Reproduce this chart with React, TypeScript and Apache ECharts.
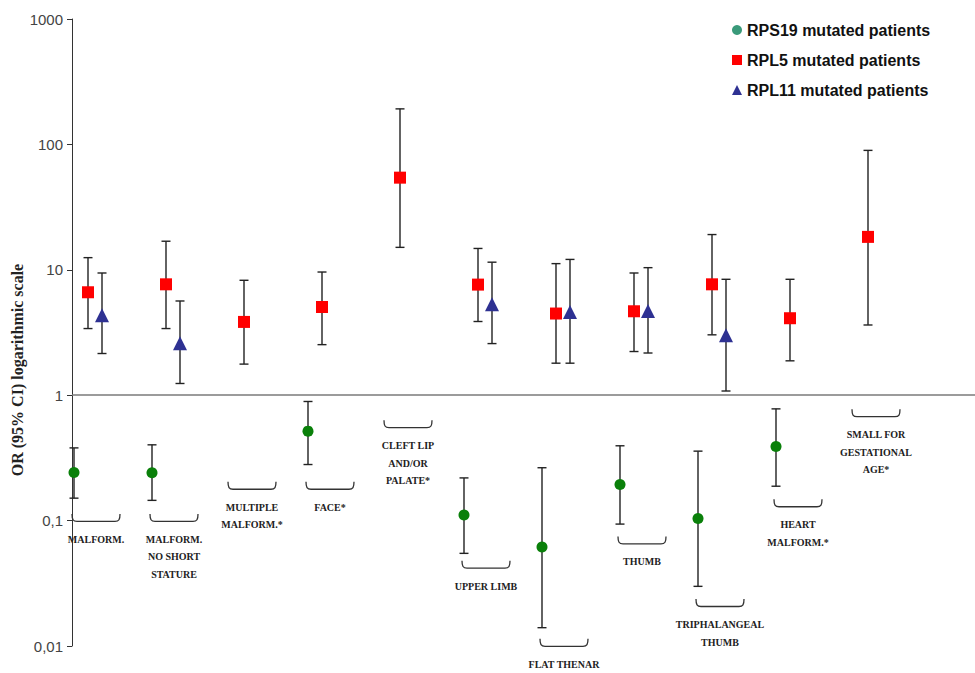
import React, { useEffect, useRef } from 'react';
import * as echarts from 'echarts';

// ---------- data ----------
const categories = [
  'MALFORM.',
  'MALFORM.\nNO SHORT\nSTATURE',
  'MULTIPLE\nMALFORM.*',
  'FACE*',
  'CLEFT LIP\nAND/OR\nPALATE*',
  'UPPER LIMB',
  'FLAT THENAR',
  'THUMB',
  'TRIPHALANGEAL\nTHUMB',
  'HEART\nMALFORM.*',
  'SMALL FOR\nGESTATIONAL\nAGE*',
];

const seriesNames = ['RPS19 mutated patients', 'RPL5 mutated patients', 'RPL11 mutated patients'];

// RPS19 (odds ratio, lower / upper 95% CI)
const rps19Or = [0.242, 0.241, null, 0.517, null, 0.111, 0.0615, 0.194, 0.104, 0.39, null];
const rps19Lo = [0.151, 0.145, null, 0.28, null, 0.0548, 0.014, 0.0938, 0.0299, 0.188, null];
const rps19Hi = [0.38, 0.402, null, 0.891, null, 0.219, 0.264, 0.395, 0.358, 0.778, null];

// RPL5
const rpl5Or = [6.62, 7.66, 3.84, 5.05, 54.3, 7.62, 4.48, 4.67, 7.66, 4.11, 18.3];
const rpl5Lo = [3.4, 3.4, 1.77, 2.53, 15.1, 3.87, 1.8, 2.23, 3.03, 1.88, 3.63];
const rpl5Hi = [12.5, 16.9, 8.25, 9.6, 192, 14.8, 11.2, 9.43, 19.1, 8.4, 89.6];

// RPL11
const rpl11Or = [4.34, 2.6, null, null, null, 5.31, 4.61, 4.7, 3.01, null, null];
const rpl11Lo = [2.15, 1.24, null, null, null, 2.58, 1.8, 2.17, 1.08, null, null];
const rpl11Hi = [9.43, 5.64, null, null, null, 11.5, 12.1, 10.4, 8.4, null, null];

// OR level at which each category's bracket label sits
const labelAt = [0.113, 0.113, 0.204, 0.204, 0.632, 0.0479, 0.0114, 0.0748, 0.0237, 0.148, 0.773];

const yTickLabels = ['0,01', '0,1', '1', '10', '100', '1000'];

// ---------- layout helpers ----------
const X_MIN = -16 / 78;
const X_MAX = X_MIN + 903 / 78;
const OFFSET = 14 / 78;

const pts = (arr: (number | null)[], off: number) =>
  arr
    .map((v, i) => (v == null ? null : [i + off, v]))
    .filter((d) => d != null) as number[][];

const errs = (lo: (number | null)[], hi: (number | null)[], off: number) =>
  lo
    .map((v, i) => (v == null || hi[i] == null ? null : [i + off, v, hi[i] as number]))
    .filter((d) => d != null) as number[][];

const errRender = (params: any, api: any) => {
  const x = api.value(0);
  const top = api.coord([x, api.value(2)]);
  const bot = api.coord([x, api.value(1)]);
  const cx = top[0];
  const hw = 4.5;
  const st = { stroke: '#222', lineWidth: 1.4 };
  return {
    type: 'group',
    children: [
      { type: 'line', shape: { x1: cx, y1: top[1], x2: cx, y2: bot[1] }, style: st },
      { type: 'line', shape: { x1: cx - hw, y1: top[1], x2: cx + hw, y2: top[1] }, style: st },
      { type: 'line', shape: { x1: cx - hw, y1: bot[1], x2: cx + hw, y2: bot[1] }, style: st },
    ],
  };
};

const bracketRender = (params: any, api: any) => {
  const p = api.coord([api.value(0), api.value(1)]);
  const cx = p[0] + 8;
  const y = p[1];
  const l = cx - 24;
  const r = cx + 24;
  const b = y + 7.5;
  const d = `M${l},${y} C${l},${b - 2} ${l + 1},${b} ${l + 5},${b} L${r - 5},${b} C${r - 1},${b} ${r},${b - 2} ${r},${y}`;
  return {
    type: 'group',
    children: [
      { type: 'path', shape: { pathData: d }, style: { stroke: '#333', lineWidth: 1.3, fill: 'none' } },
      {
        type: 'text',
        x: cx,
        y: y + 16.5,
        style: {
          text: categories[params.dataIndex],
          align: 'center',
          verticalAlign: 'top',
          fontFamily: '"Liberation Serif", "DejaVu Serif", serif',
          fontWeight: 'bold',
          fontSize: 10,
          lineHeight: 17.7,
          fill: '#222',
        },
      },
    ],
  };
};

export default function App() {
  const ref = useRef<HTMLDivElement>(null);

  useEffect(() => {
    document.body.style.margin = '0';
    if (!ref.current) return;
    const chart = echarts.init(ref.current, null, { renderer: 'svg' });

    const errCommon = {
      type: 'custom',
      renderItem: errRender,
      encode: { x: 0, y: [1, 2] },
      silent: true,
      z: 2,
    };

    chart.setOption({
      animation: false,
      backgroundColor: '#ffffff',
      grid: { left: 72, right: 0, top: 19, bottom: 27 },
      legend: {
        orient: 'vertical',
        left: 727,
        top: 16,
        itemWidth: 10,
        itemHeight: 10,
        itemGap: 12,
        selectedMode: false,
        textStyle: {
          fontFamily: '"Liberation Sans", Arial, sans-serif',
          fontWeight: 'bold',
          fontSize: 16,
          lineHeight: 18,
          color: '#111',
        },
        data: [
          { name: seriesNames[0], icon: 'circle', itemStyle: { color: '#3a9a7a' } },
          { name: seriesNames[1], icon: 'rect' },
          { name: seriesNames[2], icon: 'triangle' },
        ],
      },
      xAxis: {
        type: 'value',
        min: X_MIN,
        max: X_MAX,
        show: false,
      },
      yAxis: {
        type: 'log',
        logBase: 10,
        min: 0.01,
        max: 1000,
        axisLine: { show: true, onZero: false, lineStyle: { color: '#333', width: 1 } },
        axisTick: { show: true, inside: false, length: 5, lineStyle: { color: '#333' } },
        splitLine: { show: false },
        minorTick: { show: false },
        axisLabel: {
          margin: 9,
          fontFamily: '"Liberation Sans", Arial, sans-serif',
          fontSize: 15,
          color: '#444',
          formatter: (v: number) => {
            const idx = Math.round(Math.log10(v)) + 2;
            return yTickLabels[idx] ?? '';
          },
        },
      },
      graphic: [
        {
          type: 'text',
          x: 17,
          y: 370,
          rotation: Math.PI / 2,
          style: {
            text: 'OR (95% CI) logarithmic scale',
            fontFamily: '"Liberation Serif", "DejaVu Serif", serif',
            fontWeight: 'bold',
            fontSize: 16,
            fill: '#222',
            align: 'center',
            verticalAlign: 'middle',
          },
        },
      ],
      series: [
        { ...errCommon, name: 'err-rps19', data: errs(rps19Lo, rps19Hi, -OFFSET) },
        { ...errCommon, name: 'err-rpl5', data: errs(rpl5Lo, rpl5Hi, 0) },
        { ...errCommon, name: 'err-rpl11', data: errs(rpl11Lo, rpl11Hi, OFFSET) },
        {
          type: 'custom',
          name: 'labels',
          renderItem: bracketRender,
          encode: { x: 0, y: 1 },
          silent: true,
          data: labelAt.map((v, i) => [i, v]),
          z: 1,
        },
        {
          type: 'scatter',
          name: seriesNames[0],
          symbol: 'circle',
          symbolSize: 11,
          itemStyle: { color: '#0a800a', opacity: 1 },
          data: pts(rps19Or, -OFFSET),
          z: 3,
        },
        {
          type: 'scatter',
          name: seriesNames[1],
          symbol: 'rect',
          symbolSize: 12,
          itemStyle: { color: '#ff0000', opacity: 1 },
          data: pts(rpl5Or, 0),
          z: 3,
          markLine: {
            silent: true,
            symbol: ['none', 'none'],
            label: { show: false },
            lineStyle: { color: '#7a7a7a', width: 1.6, type: 'solid' },
            data: [{ yAxis: 1 }],
          },
        },
        {
          type: 'scatter',
          name: seriesNames[2],
          symbol: 'triangle',
          symbolSize: 14,
          itemStyle: { color: '#2e3192', opacity: 1 },
          data: pts(rpl11Or, OFFSET),
          z: 3,
        },
      ],
    });

    return () => chart.dispose();
  }, []);

  return <div ref={ref} style={{ width: 975, height: 673 }} />;
}
